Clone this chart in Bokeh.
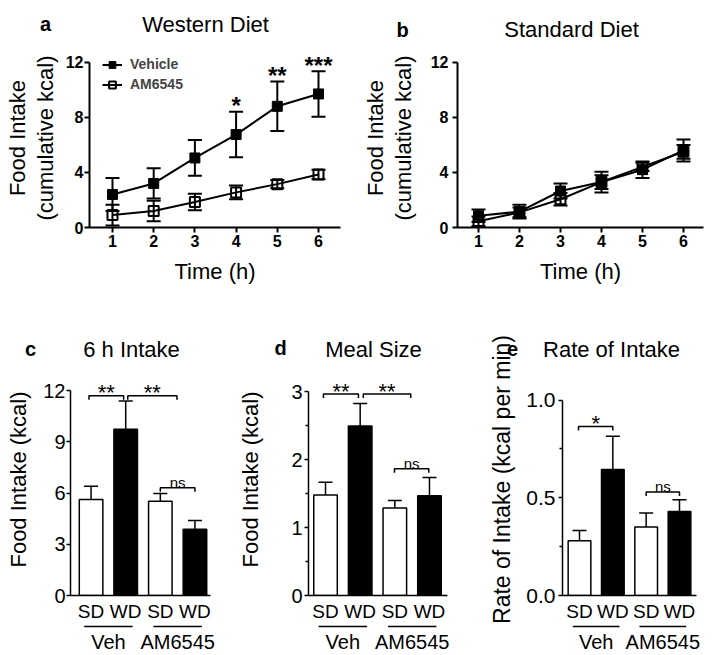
from bokeh.plotting import figure
from bokeh.layouts import column, row
from bokeh.models import Range1d, FixedTicker, Legend, LegendItem, PrintfTickFormatter
from bokeh.core.properties import value
from bokeh.embed import file_html
from bokeh.resources import INLINE

FONT = "Liberation Sans"

# ---------------- data ----------------
hours = [1, 2, 3, 4, 5, 6]
hour_labels = ["1", "2", "3", "4", "5", "6"]

wd_vehicle = [2.4, 3.2, 5.05, 6.75, 8.8, 9.7]
wd_vehicle_sem = [1.2, 1.1, 1.3, 1.65, 1.8, 1.65]
wd_am6545 = [0.9, 1.2, 1.85, 2.55, 3.15, 3.85]
wd_am6545_sem = [0.75, 0.75, 0.6, 0.5, 0.3, 0.35]
wd_sig = ["", "", "", "*", "**", "***"]

sd_vehicle = [0.85, 1.15, 2.65, 3.3, 4.2, 5.6]
sd_vehicle_sem = [0.45, 0.5, 0.55, 0.75, 0.6, 0.8]
sd_am6545 = [0.45, 1.1, 2.05, 3.3, 4.4, 5.5]
sd_am6545_sem = [0.35, 0.35, 0.45, 0.5, 0.3, 0.5]

series_names = ["Vehicle", "AM6545"]

bar_labels = ["SD", "WD", "SD", "WD"]
bar_groups = ["Veh", "Veh", "AM6545", "AM6545"]
bar_fill = ["white", "black", "white", "black"]

intake6h = [5.63, 9.75, 5.53, 3.88]
intake6h_sem = [0.77, 1.65, 0.45, 0.51]
meal_size = [1.48, 2.5, 1.29, 1.47]
meal_size_sem = [0.19, 0.33, 0.11, 0.27]
rate = [0.28, 0.645, 0.35, 0.43]
rate_sem = [0.053, 0.17, 0.072, 0.06]

cmp_c_x0 = [0.94, 2.06, 3.0]
cmp_c_x1 = [1.94, 3.48, 4.0]
cmp_c_y = [11.71, 11.71, 6.32]
cmp_c_lbl = ["**", "**", "ns"]

cmp_d_x0 = [0.94, 2.09, 2.99]
cmp_d_x1 = [1.95, 3.46, 3.98]
cmp_d_y = [2.97, 2.97, 1.87]
cmp_d_lbl = ["**", "**", "ns"]

cmp_e_x0 = [0.97, 3.0]
cmp_e_x1 = [2.0, 4.0]
cmp_e_y = [0.865, 0.53]
cmp_e_lbl = ["*", "ns"]

panel_letters = ["a", "b", "c", "d", "e"]
panel_titles = ["Western Diet", "Standard Diet", "6 h Intake", "Meal Size", "Rate of Intake"]


# ---------------- helpers ----------------
def base_fig(g):
    p = figure(x_range=Range1d(g["x0"], g["x1"]), y_range=Range1d(0, g["y1"]),
               frame_width=g["fw"], frame_height=g["fh"],
               min_border_left=g["mbl"], min_border_right=g["mbr"],
               min_border_top=g["mbt"], min_border_bottom=g["mbb"],
               output_backend="svg", toolbar_location=None, tools="")
    p.outline_line_color = None
    p.xgrid.visible = False
    p.ygrid.visible = False
    p.background_fill_color = "white"
    p.border_fill_color = "white"
    return p


def txt(p, x, y, text, size, bold=False, align="center", baseline="alphabetic",
        x_offset=0, y_offset=0):
    p.text(x=x, y=y, text=text, x_offset=x_offset, y_offset=y_offset,
           text_font=value(FONT), text_font_size=value(f"{size}px"),
           text_font_style="bold" if bold else "normal",
           text_align=align, text_baseline=baseline, text_color="black",
           level="overlay")


def head(p, g, letter, title, letter_off, title_off):
    txt(p, [g["x0"]], [g["y1"]], [letter], 20, bold=True,
        x_offset=letter_off[0], y_offset=letter_off[1])
    txt(p, [g["x0"]], [g["y1"]], [title], 22,
        x_offset=title_off[0], y_offset=title_off[1])


def style_axis(ax, tick_size, bold, lw, tick_out, standoff, lab_standoff, lab_size=22):
    ax.axis_line_width = lw
    ax.major_tick_line_width = lw
    ax.minor_tick_line_width = lw
    ax.major_tick_out = tick_out
    ax.major_tick_in = 0
    ax.minor_tick_out = 3
    ax.minor_tick_in = 0
    ax.major_label_text_font = FONT
    ax.major_label_text_font_size = f"{tick_size}px"
    ax.major_label_text_font_style = "bold" if bold else "normal"
    ax.major_label_text_color = "black"
    ax.major_label_standoff = standoff
    ax.axis_label_text_font = FONT
    ax.axis_label_text_font_size = f"{lab_size}px"
    ax.axis_label_text_font_style = "normal"
    ax.axis_label_text_color = "black"
    ax.axis_label_standoff = lab_standoff


def line_panel(g, v1, e1, v2, e2, letter, title, letter_off, title_off,
               sig=None, legend_loc=None, ylab_standoff=8, ytick_standoff=1):
    p = base_fig(g)
    cw = 7 * (g["x1"] - g["x0"]) / g["fw"]
    rends = []
    for vals, errs, filled in ((v1, e1, True), (v2, e2, False)):
        lo = [v - e for v, e in zip(vals, errs)]
        hi = [v + e for v, e in zip(vals, errs)]
        p.segment(x0=hours, y0=lo, x1=hours, y1=hi, line_width=2, line_color="black")
        p.segment(x0=[h - cw for h in hours], y0=hi, x1=[h + cw for h in hours], y1=hi,
                  line_width=2, line_color="black")
        p.segment(x0=[h - cw for h in hours], y0=lo, x1=[h + cw for h in hours], y1=lo,
                  line_width=2, line_color="black")
        ln = p.line(hours, vals, line_width=2, line_color="black")
        if filled:
            mk = p.scatter(hours, vals, marker="square", size=10, fill_color="black",
                           line_color="black")
        else:
            mk = p.scatter(hours, vals, marker="square", size=10, fill_alpha=0,
                           line_color="black", line_width=2)
        rends.append([ln, mk])
    if sig is not None:
        sx = [h for h, s in zip(hours, sig) if s]
        sy = [v + e for v, e, s in zip(v1, e1, sig) if s]
        st = [s for s in sig if s]
        txt(p, sx, sy, st, 24, bold=True, y_offset=-6)
    if legend_loc is not None:
        leg = Legend(items=[LegendItem(label=n, renderers=r) for n, r in zip(series_names, rends)],
                     location=legend_loc, glyph_width=20, glyph_height=17, label_height=17,
                     label_standoff=8, spacing=3, padding=0, margin=0,
                     border_line_alpha=0, background_fill_alpha=0,
                     label_text_font=FONT, label_text_font_size="14px",
                     label_text_font_style="bold")
        p.add_layout(leg)
    p.xaxis.ticker = FixedTicker(ticks=hours)
    p.xaxis.major_label_overrides = dict(zip(hours, hour_labels))
    p.yaxis.ticker = FixedTicker(ticks=[0, 4, 8, 12])
    p.yaxis.bounds = (0, 12)
    style_axis(p.xaxis[0], 16, True, 2, 5, 2, 9)
    style_axis(p.yaxis[0], 16, True, 2, 5, ytick_standoff, ylab_standoff)
    p.xaxis.axis_label = "Time (h)"
    p.yaxis.axis_label = "Food Intake\n(cumulative kcal)"
    p.yaxis.axis_label_text_line_height = 1.1
    head(p, g, letter, title, letter_off, title_off)
    return p


def bar_panel(g, vals, errs, ylabel, yticks, yminor, ytop, cx0, cx1, cy, clbl,
              letter, title, letter_off, title_off, ytick_size=20, fmt=None,
              ylab_standoff=10, ytick_standoff=1, ylab_size=22):
    p = base_fig(g)
    ppx_y = g["y1"] / g["fh"]
    ppx_x = (g["x1"] - g["x0"]) / g["fw"]
    pos = list(range(1, len(vals) + 1))
    cw = 7 * ppx_x
    p.vbar(x=pos, top=vals, bottom=0, width=0.68, fill_color=bar_fill,
           line_color="black", line_width=1.5)
    hi = [v + e for v, e in zip(vals, errs)]
    p.segment(x0=pos, y0=vals, x1=pos, y1=hi, line_width=1.5, line_color="black")
    p.segment(x0=[x - cw for x in pos], y0=hi, x1=[x + cw for x in pos], y1=hi,
              line_width=1.5, line_color="black")
    # comparison brackets
    tick = 4 * ppx_y
    xs = [[a, a, b, b] for a, b in zip(cx0, cx1)]
    ys = [[y - tick, y, y, y - tick] for y in cy]
    p.multi_line(xs, ys, line_width=1.5, line_color="black")
    for a, b, y, l in zip(cx0, cx1, cy, clbl):
        if l == "ns":
            txt(p, [(a + b) / 2], [y], [l], 15, y_offset=-5)
        else:
            txt(p, [(a + b) / 2], [y], [l], 22, y_offset=-3)
    # group lines and labels under the axis
    groups = []
    for gname in bar_groups:
        if gname not in groups:
            groups.append(gname)
    gx0, gx1, gc = [], [], []
    for gname in groups:
        members = [x for x, gg in zip(pos, bar_groups) if gg == gname]
        gx0.append(min(members) - 0.2)
        gx1.append(max(members) + 0.2)
        gc.append(sum(members) / len(members))
    gy = [-31 * ppx_y] * len(groups)
    p.segment(x0=gx0, y0=gy, x1=gx1, y1=gy, line_width=1.5, line_color="black",
              level="overlay")
    txt(p, gc, [0] * len(groups), groups, 20, baseline="top", y_offset=35)
    # axes
    p.xaxis.ticker = FixedTicker(ticks=pos)
    p.xaxis.major_label_overrides = dict(zip(pos, bar_labels))
    style_axis(p.xaxis[0], 19, False, 1.5, 0, 5, 0)
    p.yaxis.ticker = FixedTicker(ticks=yticks, minor_ticks=yminor)
    p.yaxis.bounds = (0, ytop)
    if fmt:
        p.yaxis.formatter = PrintfTickFormatter(format=fmt)
    style_axis(p.yaxis[0], ytick_size, False, 1.5, 4, ytick_standoff, ylab_standoff,
               lab_size=ylab_size)
    p.yaxis.axis_label = ylabel
    head(p, g, letter, title, letter_off, title_off)
    return p


# ---------------- panels ----------------
ga = dict(x0=0.442, x1=6.534, y1=13.0, fw=251, fh=179, mbl=89, mbr=20, mbt=48, mbb=73)
gb = dict(x0=0.488, x1=6.488, y1=13.0, fw=246, fh=179, mbl=97, mbr=10, mbt=44, mbb=77)
gc = dict(x0=0.406, x1=4.449, y1=13.6, fw=140, fh=232, mbl=70, mbr=25, mbt=63, mbb=59)
gd = dict(x0=0.509, x1=4.52, y1=3.42, fw=139, fh=232, mbl=72, mbr=21, mbt=63, mbb=59)
ge = dict(x0=0.49, x1=4.51, y1=1.187, fw=134, fh=232, mbl=94, mbr=17, mbt=63, mbb=59)

pa = line_panel(ga, wd_vehicle, wd_vehicle_sem, wd_am6545, wd_am6545_sem,
                panel_letters[0], panel_titles[0], (-44, -25), (116, -24),
                sig=wd_sig, legend_loc=(13, 134.5), ylab_standoff=5, ytick_standoff=1)
pb = line_panel(gb, sd_vehicle, sd_vehicle_sem, sd_am6545, sd_am6545_sem,
                panel_letters[1], panel_titles[1], (-55, -19), (114, -19),
                ylab_standoff=12, ytick_standoff=4)
pc = bar_panel(gc, intake6h, intake6h_sem, "Food Intake (kcal)", [0, 3, 6, 9, 12], [], 12,
               cmp_c_x0, cmp_c_x1, cmp_c_y, cmp_c_lbl,
               panel_letters[2], panel_titles[2], (-40, -15), (61, -14),
               ylab_standoff=9, ytick_standoff=1)
pd_ = bar_panel(gd, meal_size, meal_size_sem, "Food Intake (kcal)", [0, 1, 2, 3],
                [0.5, 1.5, 2.5], 3,
                cmp_d_x0, cmp_d_x1, cmp_d_y, cmp_d_lbl,
                panel_letters[3], panel_titles[3], (-28, -16), (65, -14),
                ylab_standoff=25, ytick_standoff=2)
pe = bar_panel(ge, rate, rate_sem, "Rate of Intake (kcal per min)", [0, 0.5, 1.0],
               [0.25, 0.75], 1.0,
               cmp_e_x0, cmp_e_x1, cmp_e_y, cmp_e_lbl,
               panel_letters[4], panel_titles[4], (-50, -15), (49, -14),
               ytick_size=21, fmt="%.1f", ylab_standoff=8, ytick_standoff=3, ylab_size=23)

layout = column(row(pa, pb), row(pc, pd_, pe))
open("out.html", "w").write(file_html(layout, INLINE))
